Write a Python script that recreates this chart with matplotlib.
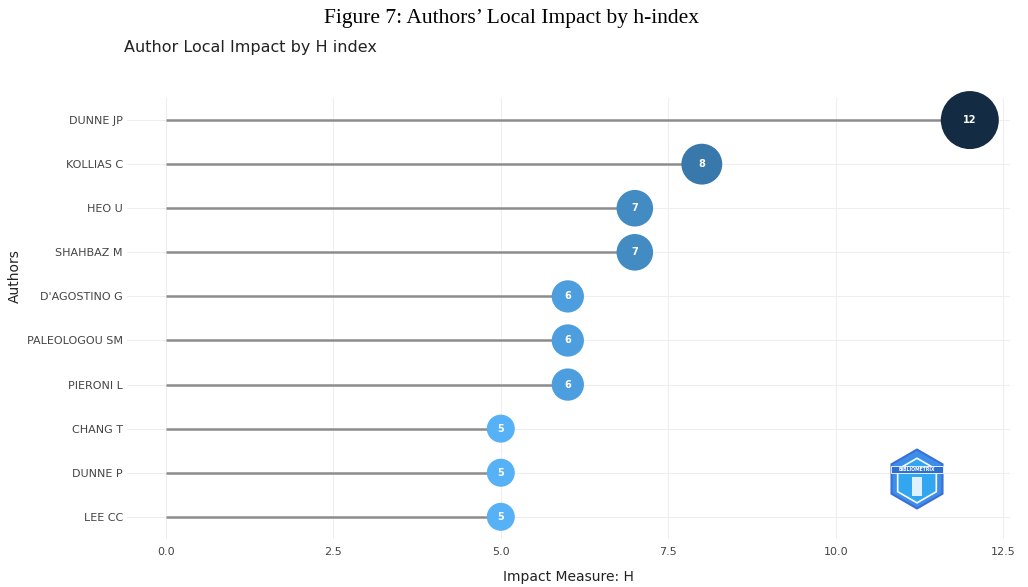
import matplotlib.pyplot as plt
import numpy as np
from matplotlib.colors import LinearSegmentedColormap, Normalize
from matplotlib.patches import RegularPolygon

# data
authors = ['DUNNE JP', 'KOLLIAS C', 'HEO U', 'SHAHBAZ M', "D'AGOSTINO G",
           'PALEOLOGOU SM', 'PIERONI L', 'CHANG T', 'DUNNE P', 'LEE CC']
h_index = [12, 8, 7, 7, 6, 6, 6, 5, 5, 5]

W, H = 1028, 587
fig = plt.figure(figsize=(W / 100, H / 100), dpi=100)
fig.patch.set_facecolor('white')
ax = fig.add_axes([0.1235, 0.082, 0.859, 0.751])

ypos = np.arange(len(authors))[::-1]
vals = np.array(h_index)

# grey stems
ax.hlines(ypos, 0, vals, color='#8c8c8c', lw=1.8, zorder=2)

# bubbles, colour + size by value (ggplot default blue gradient, reversed)
cmap = LinearSegmentedColormap.from_list('h', ['#56B1F7', '#132B43'])
norm = Normalize(vmin=vals.min(), vmax=vals.max())
diam_px = 28 + (vals - 5) * (58 - 28) / 7.0
sizes = (diam_px * 0.72) ** 2
ax.scatter(vals, ypos, s=sizes, c=cmap(norm(vals)), zorder=3,
           edgecolors='none', clip_on=False)
for v, y in zip(vals, ypos):
    ax.text(v, y, str(v), ha='center', va='center', color='white',
            fontsize=7, fontweight='bold', zorder=4)

ax.set_xlim(-0.58, 12.6)
ax.set_ylim(-0.5, len(authors) - 0.5)
ax.set_yticks(ypos)
ax.set_yticklabels(authors)
ax.set_xticks([0, 2.5, 5, 7.5, 10, 12.5])
ax.set_xticklabels(['0.0', '2.5', '5.0', '7.5', '10.0', '12.5'])
ax.tick_params(axis='both', length=0, labelsize=8, labelcolor='#444444')
ax.tick_params(axis='y', pad=3)
ax.tick_params(axis='x', pad=6)
ax.grid(True, color='#eeeeee', lw=0.8, zorder=0)
ax.set_axisbelow(True)
for s in ax.spines.values():
    s.set_visible(False)

fig.text(568 / W, 1 - 577 / H, 'Impact Measure: H', fontsize=10,
         color='#222222', ha='center', va='center')
fig.text(0.014, 0.53, 'Authors', rotation=90, ha='center', va='center',
         fontsize=10, color='#222222')

fig.text(0.121, 0.919, 'Author Local Impact by H index', fontsize=11.5,
         color='#222222', ha='left', va='center')
fig.text(0.498, 0.969, 'Figure 7: Authors\u2019 Local Impact by h-index',
         fontsize=15.5, family='Liberation Serif', ha='center', va='center')

# bibliometrix-like watermark logo in a small equal-aspect axes
lax = fig.add_axes([886 / W, 1 - 510 / H, 62 / W, 62 / H])
lax.set_xlim(-1, 1)
lax.set_ylim(-1, 1)
lax.set_aspect('equal')
lax.axis('off')
lax.add_patch(RegularPolygon((0, 0), numVertices=6, radius=0.95,
                             facecolor='#3d8ee8', edgecolor='#3a6fd6', lw=1.5))
lax.add_patch(RegularPolygon((0, -0.05), numVertices=6, radius=0.72,
                             facecolor='#33a6f2', edgecolor='white', lw=1.2))
lax.add_patch(plt.Rectangle((-0.85, 0.2), 1.7, 0.22, facecolor='#2f6fd0',
                            edgecolor='white', lw=0.6))
lax.text(0, 0.31, 'BIBLIOMETRIX', fontsize=3.3, color='white',
         fontweight='bold', ha='center', va='center')
lax.add_patch(plt.Rectangle((-0.15, -0.55), 0.3, 0.6, facecolor='white',
                            edgecolor='none', alpha=0.85))

plt.savefig('out.png', dpi=100)
